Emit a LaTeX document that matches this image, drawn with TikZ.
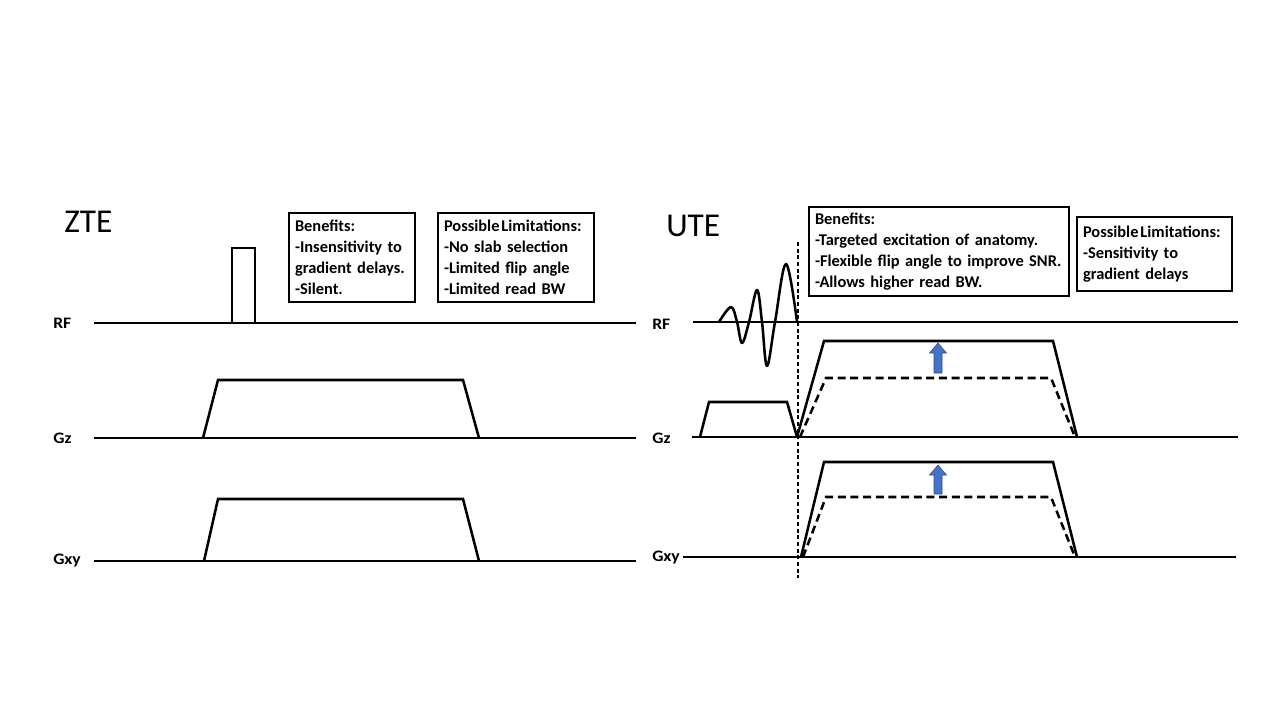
\documentclass[tikz,border=0pt]{standalone}
\usepackage{fontspec}
\setmainfont{Carlito}
\begin{document}
\begin{tikzpicture}[x=0.75pt,y=-0.75pt,
  seq/.style={line width=1.9pt},
  dashseq/.style={line width=1.9pt, dash pattern=on 6pt off 3.5pt},
  vline/.style={line width=1.1pt, dash pattern=on 3pt off 2pt},
  axlabel/.style={font=\bfseries\fontsize{12}{14}\selectfont, anchor=west, inner sep=0pt, xscale=1.1},
  title/.style={font=\fontsize{25}{28}\selectfont, anchor=west, inner sep=0pt},
  infobox/.style={draw, line width=1.5pt, anchor=north west, align=left, inner xsep=4.5pt, inner ysep=2pt,
    font=\bfseries\fontsize{12.3}{15.75}\selectfont},
  bluearrow/.style={fill={rgb,255:red,68;green,114;blue,196}, draw={rgb,255:red,47;green,82;blue,143}, line width=0.4pt}
]
\useasboundingbox (0,0) rectangle (1280,720);
\fill[white] (0,0) rectangle (1280,720);

% ---------------- ZTE ----------------
\node[title] (zte) at (64,222) {ZTE};
\node[axlabel] (zrf) at (53,323) {RF};
\node[axlabel] (zgz) at (53,438) {Gz};
\node[axlabel] (zgxy) at (53,561) {Gxy};

\draw[seq] (94,323) -- (636,323);
\draw[seq] (94,438) -- (636,438);
\draw[seq] (94,561) -- (636,561);

% RF hard pulse
\draw[seq] (232,323) -- (232,248) -- (255,248) -- (255,323);
% Gz and Gxy trapezoids
\draw[seq] (203,438) -- (218,380) -- (463,380) -- (479,438);
\draw[seq] (204,561) -- (218,499) -- (463,499) -- (479,561);

\node[infobox, text width=113.5*0.75pt, minimum height=89*0.75pt] (zben) at (288,212)
  {Benefits:\\-Insensitivity to\\gradient delays.\\-Silent.};
\node[infobox, text width=143.5*0.75pt, minimum height=89*0.75pt] (zlim) at (437,212)
  {\mbox{Possible\hspace{0.12em}Limitations:}\\-No slab selection\\-Limited flip angle\\-Limited read BW};

% ---------------- UTE ----------------
\node[title] (ute) at (666,226) {UTE};
\node[axlabel] (urf) at (652,324) {RF};
\node[axlabel] (ugz) at (652,438) {Gz};
\node[axlabel] (ugxy) at (652,558) {Gxy};

\draw[seq] (693,322) -- (1238,322);
\draw[seq] (692,437) -- (1238,437);
\draw[seq] (683,557) -- (1236,557);

% sinc RF pulse
\draw[seq, line join=round] plot[smooth, tension=0.6] coordinates {
  (719,322) (731,307) (737,322) (742,343) (749,322) (757,290) (762,322)
  (767,366) (775,322) (786,264) (797,322)};

% vertical dashed line
\coordinate (vtop) at (798,242);
\coordinate (vbot) at (798,578);
\draw[vline] (vtop) -- (vbot);

% Gz slice select trapezoid
\draw[seq] (700,437) -- (709,402) -- (787,402) -- (797,437);
% Gz readout trapezoid
\draw[seq] (797,437) -- (824,341) -- (1053,341) -- (1077,437);
\draw[dashseq] (800,437) -- (826,378) -- (1051,378) -- (1075,437);
% Gxy readout trapezoid
\draw[seq] (801,557) -- (824,462) -- (1053,462) -- (1077,557);
\draw[dashseq] (803,557) -- (826,497) -- (1051,497) -- (1075,557);

% blue arrows
\draw[bluearrow] (938,343) -- (946.5,353) -- (942,353) -- (942,373) -- (934,373) -- (934,353) -- (929.5,353) -- cycle;
\draw[bluearrow] (938,465) -- (946.5,475) -- (942,475) -- (942,494) -- (934,494) -- (934,475) -- (929.5,475) -- cycle;

\node[infobox, text width=248*0.75pt, minimum height=89*0.75pt] (uben) at (808,206)
  {Benefits:\\-Targeted excitation of anatomy.\\-Flexible flip angle to improve SNR.\\-Allows higher read BW.};
\node[infobox, text width=143*0.75pt, minimum height=74*0.75pt] (ulim) at (1076,216)
  {\mbox{Possible\hspace{0.12em}Limitations:}\\-Sensitivity to\\gradient delays};
\end{tikzpicture}
\end{document}
